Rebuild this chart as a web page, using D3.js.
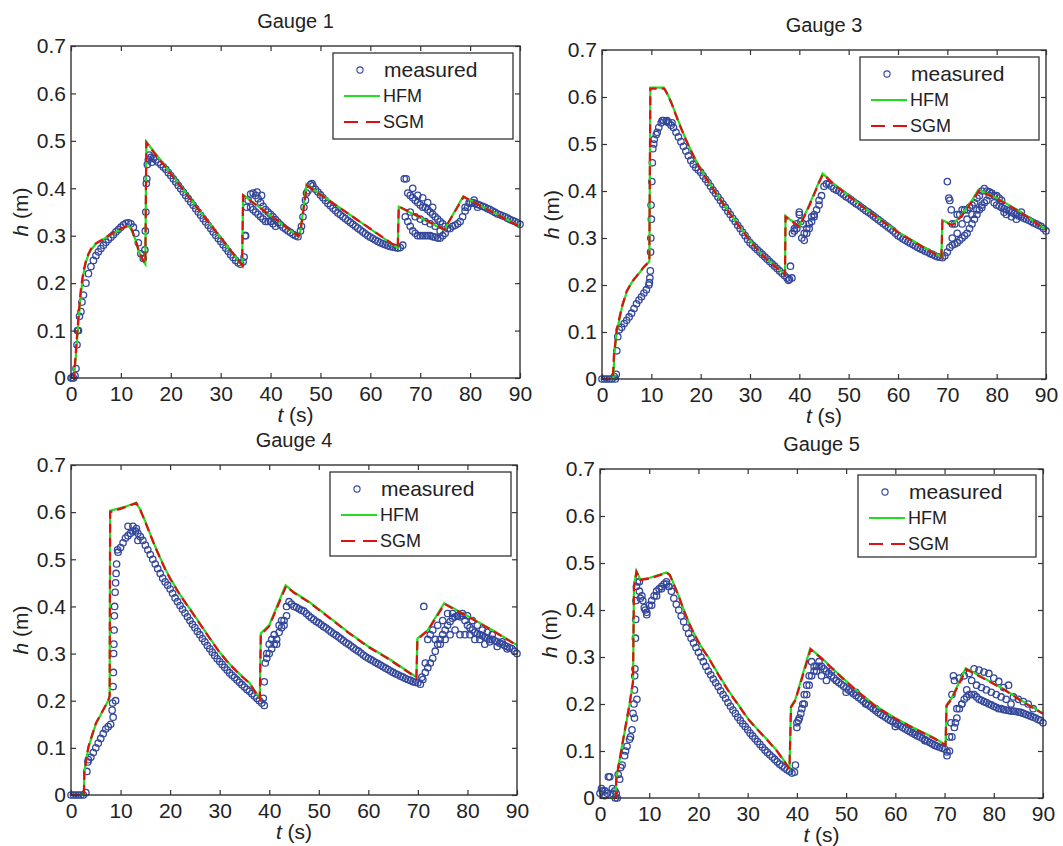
<!DOCTYPE html>
<html><head><meta charset="utf-8">
<script src="https://cdn.jsdelivr.net/npm/d3@7"></script>
<style>
body{margin:0;background:#fff}
text{font-family:"Liberation Sans",Arial,Helvetica,sans-serif;fill:#222}
</style>
</head><body>
<svg id="chart" width="1063" height="846"></svg>
<script>
// ---------------- DATA ----------------
const panelTitles = ["Gauge 1", "Gauge 3", "Gauge 4", "Gauge 5"];
const xTicks = [0, 10, 20, 30, 40, 50, 60, 70, 80, 90];
const yTicks = [0, 0.1, 0.2, 0.3, 0.4, 0.5, 0.6, 0.7];
const legendLabels = ["measured", "HFM", "SGM"];
// measured samples every 0.5 s from 0 to 90 s
const sampleTimes = d3.range(0, 90.001, 0.5);

const g1Measured = [
 0,0,.02,.1,.14,.175,.2,.22,.235,.248,
 .258,.266,.273,.28,.286,.292,.297,.302,.308,.313,
 .318,.323,.326,.327,.325,.318,.305,.285,.262,.252,
 .35,.46,.465,.463,.46,.455,.45,.445,.44,.433,
 .427,.42,.413,.406,.399,.392,.385,.378,.371,.364,
 .357,.35,.343,.336,.329,.322,.315,.308,.301,.294,
 .288,.281,.274,.267,.26,.254,.248,.243,.24,.245,
 .3,.375,.388,.39,.385,.378,.37,.362,.355,.35,
 .345,.34,.334,.328,.323,.318,.314,.31,.307,.303,
 .3,.298,.31,.34,.375,.395,.408,.405,.398,.392,
 .386,.38,.374,.368,.363,.358,.353,.348,.344,.34,
 .336,.332,.328,.324,.32,.316,.312,.308,.304,.3,
 .297,.294,.291,.288,.285,.283,.281,.279,.277,.276,
 .275,.274,.275,.28,.34,.39,.385,.38,.375,.37,
 .365,.36,.36,.355,.35,.345,.34,.335,.33,.325,
 .32,.315,.315,.32,.322,.325,.33,.34,.352,.36,
 .368,.37,.368,.366,.364,.362,.36,.357,.355,.352,
 .349,.346,.344,.342,.34,.337,.334,.332,.33,.327,
 .324];
const g1MeasuredExtra = [[0.2,0],[0.8,0.005],[1.2,0.07],[1.3,0.1],[1.7,0.13],[2.2,0.16],[14.8,0.27],[14.9,0.31],[15.1,0.41],[15.2,0.42],[15.3,0.45],[15.7,0.47],[16.2,0.455],[34.7,0.255],[34.9,0.3],[35.2,0.36],[36,0.36],[36.5,0.355],[37,0.35],[37.5,0.345],[38,0.34],[38.5,0.335],[39,0.33],[39.5,0.33],[40,0.33],[40.5,0.325],[41,0.32],[37.3,0.392],[38.2,0.385],[46.2,0.32],[46.7,0.36],[47.2,0.39],[48.3,0.41],[66.8,0.42],[67.2,0.42],[67.5,0.33],[68,0.32],[68.5,0.31],[69,0.305],[69.5,0.3],[70,0.3],[70.5,0.3],[71,0.3],[71.5,0.3],[72,0.3],[72.5,0.298],[73,0.297],[73.5,0.295],[74,0.295],[74.5,0.3],[75,0.305],[68,0.35],[69,0.34],[70,0.335],[71,0.33],[72,0.325],[73,0.32],[74,0.31],[68.5,0.4],[69.5,0.385],[70.5,0.38],[71.5,0.37],[72.5,0.36],[79,0.36],[79.8,0.37],[80.8,0.375],[81.5,0.36]];
const g1HFM = [[0,0],[0.6,0],[1.0,0.05],[1.5,0.12],[2,0.18],[2.5,0.22],[3,0.245],[3.5,0.26],[4,0.27],[5,0.283],[6,0.29],[7,0.296],[8,0.302],[9,0.308],[10,0.314],[11,0.319],[11.5,0.32],[12,0.315],[12.8,0.295],[13.5,0.27],[14.3,0.25],[14.9,0.24],[15.1,0.498],[34.3,0.237],[34.5,0.386],[45.6,0.298],[46,0.31],[47.2,0.408],[65.5,0.274],[65.7,0.361],[74.8,0.312],[78.6,0.383],[90,0.32]];
const g1SGM = [[0,0],[0.6,0],[1.0,0.06],[1.5,0.13],[2,0.19],[2.5,0.225],[3,0.247],[3.5,0.262],[4,0.272],[5,0.284],[6,0.29],[7,0.297],[8,0.303],[9,0.309],[10,0.315],[11,0.319],[11.6,0.321],[12.1,0.315],[12.9,0.293],[13.6,0.268],[14.4,0.249],[14.9,0.241],[15.1,0.496],[34.3,0.238],[34.5,0.385],[45.6,0.299],[46,0.31],[47.3,0.406],[65.5,0.275],[65.7,0.362],[74.8,0.313],[78.7,0.382],[90,0.319]];

const g3Measured = [
 0,0,0,0,0,.005,.06,.105,.11,.118,
 .125,.132,.14,.15,.16,.168,.175,.183,.19,.2,
 .34,.5,.52,.535,.545,.55,.548,.545,.54,.535,
 .525,.515,.505,.495,.485,.475,.465,.457,.45,.445,
 .44,.432,.425,.418,.41,.402,.395,.387,.38,.372,
 .365,.357,.35,.342,.335,.327,.32,.312,.305,.297,
 .29,.285,.28,.275,.27,.265,.26,.255,.25,.245,
 .24,.235,.23,.225,.22,.215,.212,.215,.32,.33,
 .35,.3,.295,.31,.32,.335,.345,.36,.38,.39,
 .41,.415,.415,.41,.405,.402,.4,.396,.392,.388,
 .385,.381,.377,.373,.37,.366,.362,.358,.355,.351,
 .347,.343,.339,.335,.331,.327,.323,.319,.315,.31,
 .305,.302,.298,.295,.292,.289,.286,.283,.28,.277,
 .275,.272,.27,.267,.265,.262,.26,.259,.258,.262,
 .27,.28,.285,.287,.29,.295,.3,.305,.31,.32,
 .33,.34,.35,.36,.37,.375,.38,.39,.395,.39,
 .37,.368,.365,.362,.36,.358,.355,.352,.35,.347,
 .345,.342,.34,.338,.335,.332,.33,.327,.325,.32,
 .315];
const g3MeasuredExtra = [[2.7,0],[2.9,0.01],[3.2,0.09],[9.6,0.205],[9.7,0.215],[9.8,0.23],[9.85,0.27],[9.9,0.3],[9.95,0.37],[10.1,0.42],[10.2,0.46],[10.3,0.49],[10.6,0.51],[11.2,0.525],[12.2,0.55],[13.2,0.55],[14.2,0.545],[37.8,0.21],[38.2,0.24],[38.6,0.31],[39,0.315],[39.5,0.32],[40,0.355],[40.3,0.335],[40.8,0.33],[41,0.31],[41.5,0.32],[42,0.33],[42.5,0.345],[43,0.35],[44,0.37],[70,0.42],[70.3,0.385],[70.5,0.38],[70.8,0.36],[71,0.33],[71.5,0.33],[72,0.35],[72.5,0.35],[73,0.36],[73.5,0.36],[74,0.36],[74.5,0.365],[75,0.37],[75.5,0.375],[76,0.385],[76.5,0.39],[77,0.4],[77.5,0.405],[78,0.4],[78.5,0.398],[79,0.395],[71,0.3],[72,0.31],[73,0.33],[74,0.34],[75,0.35],[76,0.36],[77,0.365],[79.5,0.375],[80,0.39],[80.5,0.385],[81,0.38],[81.5,0.355],[82,0.35],[83,0.345],[84,0.34],[85,0.355]];
const g3HFM = [[0,0],[2.3,0],[2.5,0.05],[3,0.1],[4,0.15],[5,0.185],[6,0.205],[7,0.218],[8.5,0.238],[9.6,0.25],[9.8,0.62],[12.5,0.62],[13,0.612],[14,0.59],[15,0.562],[16,0.535],[17,0.51],[18,0.487],[19,0.466],[20,0.447],[22,0.413],[24,0.382],[26,0.352],[28,0.323],[30,0.295],[32,0.27],[34,0.25],[36,0.232],[37.1,0.222],[37.2,0.347],[38,0.34],[40,0.325],[42,0.37],[44,0.42],[44.7,0.437],[45.5,0.43],[47,0.415],[50,0.39],[55,0.35],[60,0.313],[65,0.282],[68.8,0.26],[69,0.338],[71,0.328],[73,0.35],[75,0.38],[76.3,0.403],[80,0.385],[85,0.355],[90,0.318]];
const g3SGM = [[0,0],[2.2,0],[2.4,0.05],[3,0.105],[4,0.153],[5,0.187],[6,0.206],[7,0.219],[8.5,0.239],[9.6,0.25],[9.8,0.618],[12.6,0.618],[13,0.611],[14,0.589],[15,0.561],[16,0.534],[17,0.509],[18,0.486],[19,0.465],[20,0.446],[22,0.412],[24,0.381],[26,0.351],[28,0.322],[30,0.294],[32,0.269],[34,0.249],[36,0.231],[37.1,0.221],[37.2,0.345],[38,0.339],[40,0.324],[42,0.368],[44,0.418],[44.8,0.435],[45.5,0.429],[47,0.414],[50,0.389],[55,0.349],[60,0.312],[65,0.281],[68.8,0.259],[69,0.336],[71,0.327],[73,0.348],[75,0.378],[76.4,0.401],[80,0.384],[85,0.354],[90,0.317]];

const g4Measured = [
 0,0,0,0,0,0,.005,.075,.08,.09,
 .1,.11,.12,.13,.14,.145,.15,.165,.2,.515,
 .525,.535,.545,.55,.555,.56,.56,.555,.548,.54,
 .53,.52,.51,.5,.49,.48,.47,.46,.452,.445,
 .437,.428,.418,.41,.402,.394,.386,.378,.37,.362,
 .355,.347,.34,.332,.325,.317,.31,.303,.296,.289,
 .283,.277,.271,.265,.259,.254,.249,.244,.239,.234,
 .229,.224,.22,.215,.21,.205,.2,.195,.19,.29,
 .3,.31,.32,.33,.345,.355,.37,.4,.41,.405,
 .4,.398,.395,.392,.39,.385,.38,.376,.372,.368,
 .365,.361,.357,.354,.35,.346,.342,.339,.335,.331,
 .327,.323,.32,.316,.312,.308,.305,.301,.297,.293,
 .29,.287,.284,.281,.278,.275,.272,.269,.266,.263,
 .26,.257,.255,.252,.25,.247,.245,.243,.24,.239,
 .238,.235,.245,.26,.27,.28,.29,.305,.32,.33,
 .34,.35,.36,.368,.375,.378,.38,.378,.38,.37,
 .36,.355,.35,.345,.342,.34,.338,.335,.333,.33,
 .33,.327,.325,.322,.32,.317,.315,.312,.31,.305,
 .3];
const g4MeasuredExtra = [[3.2,0.05],[3.4,0.07],[8.3,0.18],[8.4,0.195],[8.5,0.23],[8.55,0.26],[8.6,0.3],[8.65,0.32],[8.7,0.35],[8.75,0.38],[8.8,0.4],[8.9,0.43],[9,0.45],[9.1,0.47],[9.2,0.49],[9.4,0.52],[11.5,0.57],[12.5,0.57],[13.2,0.565],[13.5,0.54],[38.8,0.205],[39,0.24],[39.2,0.28],[39.5,0.3],[40,0.32],[40.5,0.33],[41,0.34],[41.5,0.32],[42,0.36],[42.5,0.37],[43,0.36],[43.5,0.38],[70.8,0.25],[71.2,0.4],[71.5,0.28],[72,0.33],[72.5,0.34],[73,0.35],[73.5,0.33],[74,0.36],[74.5,0.32],[75,0.37],[75.5,0.33],[76,0.385],[76.5,0.34],[77,0.385],[77.5,0.35],[78,0.38],[78.5,0.34],[79,0.385],[79.5,0.34],[80,0.38],[80.5,0.34],[81,0.37],[81.5,0.33],[82,0.36],[82.5,0.33],[83,0.35],[83.5,0.32],[84,0.345],[84.5,0.325],[85,0.34],[86,0.315],[87,0.325],[88,0.31]];
const g4HFM = [[0,0],[2.6,0],[2.7,0.05],[3.5,0.1],[5,0.15],[6.5,0.18],[7.5,0.2],[7.8,0.21],[7.9,0.603],[10.5,0.61],[13.1,0.62],[14,0.605],[15,0.58],[16,0.553],[17,0.527],[18,0.503],[19,0.48],[20,0.46],[22,0.425],[24,0.395],[26,0.364],[28,0.333],[30,0.303],[32,0.278],[34,0.257],[36,0.238],[38.1,0.205],[38.3,0.343],[40,0.36],[43.3,0.445],[45,0.43],[48,0.41],[52,0.378],[56,0.345],[60,0.315],[64,0.29],[69.7,0.25],[69.9,0.332],[72,0.35],[75.3,0.407],[80,0.38],[85,0.35],[90,0.318]];
const g4SGM = [[0,0],[2.6,0],[2.7,0.05],[3.5,0.102],[5,0.152],[6.5,0.181],[7.5,0.2],[7.8,0.21],[7.9,0.6],[10.5,0.609],[13.2,0.619],[14,0.604],[15,0.579],[16,0.552],[17,0.526],[18,0.502],[19,0.479],[20,0.459],[22,0.424],[24,0.394],[26,0.363],[28,0.332],[30,0.302],[32,0.277],[34,0.256],[36,0.237],[38.1,0.204],[38.3,0.34],[40,0.358],[43.4,0.443],[45,0.429],[48,0.409],[52,0.377],[56,0.344],[60,0.314],[64,0.289],[69.7,0.249],[69.9,0.33],[72,0.349],[75.4,0.405],[80,0.379],[85,0.349],[90,0.317]];

const g5Measured = [
 .01,.015,.005,.01,.045,.01,.015,0,.04,.07,
 .09,.11,.125,.145,.17,.21,.44,.43,.405,.395,
 .41,.42,.43,.44,.445,.45,.455,.455,.45,.44,
 .425,.412,.4,.387,.375,.362,.35,.34,.33,.32,
 .31,.3,.29,.28,.27,.262,.253,.245,.237,.228,
 .22,.212,.203,.195,.187,.18,.172,.165,.158,.152,
 .145,.138,.132,.126,.12,.114,.108,.102,.097,.092,
 .087,.082,.077,.072,.068,.064,.06,.057,.053,.055,
 .16,.17,.19,.2,.22,.24,.26,.27,.28,.28,
 .28,.275,.27,.265,.26,.255,.25,.246,.242,.238,
 .234,.23,.226,.222,.218,.214,.21,.206,.202,.198,
 .194,.19,.186,.182,.178,.175,.172,.168,.165,.162,
 .159,.156,.153,.15,.147,.144,.141,.138,.135,.132,
 .13,.127,.124,.121,.118,.115,.112,.11,.108,.106,
 .104,.098,.1,.13,.15,.17,.19,.2,.21,.215,
 .22,.22,.22,.215,.21,.208,.205,.203,.2,.198,
 .195,.193,.19,.19,.188,.187,.186,.185,.185,.184,
 .183,.182,.18,.178,.176,.174,.172,.17,.167,.165,
 .16];
const g5MeasuredExtra = [[0.3,0.02],[1,0.015],[1.7,0.045],[2.5,0.02],[3.1,0],[3.3,0.01],[3.7,0.05],[4.2,0.065],[5.2,0.1],[6.2,0.13],[6.7,0.18],[6.9,0.2],[7,0.23],[7.05,0.26],[7.1,0.275],[7.2,0.34],[7.25,0.38],[7.3,0.42],[7.4,0.45],[7.6,0.46],[8,0.46],[8.2,0.425],[8.7,0.42],[9.2,0.4],[9.5,0.39],[10.5,0.41],[11.5,0.43],[12.5,0.445],[13.5,0.46],[14,0.45],[39.7,0.07],[40,0.15],[40.3,0.165],[40.8,0.18],[41.2,0.2],[41.5,0.22],[42,0.24],[42.5,0.26],[43,0.29],[43.5,0.28],[44,0.27],[44.5,0.29],[45,0.26],[46,0.25],[47,0.27],[48,0.25],[50,0.225],[52,0.225],[54,0.2],[56,0.19],[60,0.152],[64,0.14],[66,0.122],[68,0.112],[70.5,0.09],[71,0.13],[71.3,0.16],[71.5,0.22],[71.8,0.26],[72,0.25],[73,0.255],[74,0.26],[75,0.265],[76,0.275],[77,0.272],[78,0.268],[79,0.265],[80,0.255],[81,0.248],[82,0.235],[83,0.24],[84,0.215],[85,0.21],[86,0.205],[87,0.2],[88,0.19],[75.5,0.25],[76.5,0.24],[77.5,0.235],[78.5,0.23],[79.5,0.225],[80.5,0.22],[81.5,0.215],[82.5,0.21],[83.5,0.2],[73.5,0.2],[74.5,0.23],[72.5,0.19],[72.2,0.16]];
const g5HFM = [[0,0],[3.2,0],[3.3,0.04],[4.3,0.1],[5,0.14],[6,0.198],[6.7,0.245],[6.9,0.45],[7.4,0.483],[8.2,0.465],[10,0.468],[13.5,0.48],[14.2,0.475],[15,0.455],[16,0.43],[17,0.401],[18,0.375],[19,0.352],[20.5,0.323],[22,0.3],[24,0.264],[26,0.23],[28,0.2],[30,0.17],[32,0.146],[34,0.124],[36,0.1],[38.5,0.063],[38.8,0.195],[39.7,0.21],[42.7,0.318],[45,0.298],[48,0.268],[52,0.23],[56,0.196],[60,0.17],[64,0.148],[68,0.127],[70.2,0.113],[70.4,0.198],[71.4,0.212],[74.3,0.276],[78,0.255],[82,0.232],[86,0.205],[90,0.18]];
const g5SGM = [[0,0],[3.2,0],[3.3,0.04],[4.3,0.1],[5,0.142],[6,0.2],[6.7,0.247],[6.9,0.447],[7.4,0.481],[8.2,0.464],[10,0.467],[13.6,0.479],[14.2,0.474],[15,0.454],[16,0.429],[17,0.4],[18,0.374],[19,0.351],[20.5,0.322],[22,0.299],[24,0.263],[26,0.229],[28,0.199],[30,0.169],[32,0.145],[34,0.123],[36,0.099],[38.5,0.062],[38.8,0.193],[39.7,0.208],[42.8,0.316],[45,0.297],[48,0.267],[52,0.229],[56,0.195],[60,0.169],[64,0.147],[68,0.126],[70.2,0.112],[70.4,0.196],[71.4,0.21],[74.4,0.274],[78,0.254],[82,0.231],[86,0.204],[90,0.179]];

// ---------------- LAYOUT ----------------
const layout = [
  {box:[71, 46, 520, 378], legend:[333, 53, 513, 139]},
  {box:[602, 50, 1046, 379], legend:[860, 57, 1039, 140]},
  {box:[71, 465, 517, 795], legend:[330, 472, 511, 556]},
  {box:[600, 469, 1043, 798], legend:[858, 475, 1036, 557]}
];
const series = [
  {meas:g1Measured, extra:g1MeasuredExtra, hfm:g1HFM, sgm:g1SGM},
  {meas:g3Measured, extra:g3MeasuredExtra, hfm:g3HFM, sgm:g3SGM},
  {meas:g4Measured, extra:g4MeasuredExtra, hfm:g4HFM, sgm:g4SGM},
  {meas:g5Measured, extra:g5MeasuredExtra, hfm:g5HFM, sgm:g5SGM}
];

const C_MEAS = "#33479b", C_HFM = "#22dd22", C_SGM = "#dd1111", C_AX = "#333";
const svg = d3.select("#chart");

layout.forEach((L, i) => {
  const S = series[i];
  const [x0, y0, x1, y1] = L.box;
  const x = d3.scaleLinear().domain([0, 90]).range([x0, x1]);
  const y = d3.scaleLinear().domain([0, 0.7]).range([y1, y0]);
  const g = svg.append("g");

  // measured
  const pts = sampleTimes.map((t, k) => [t, S.meas[k]]).concat(S.extra);
  g.append("g").selectAll("circle").data(pts).join("circle")
    .attr("cx", d => x(d[0])).attr("cy", d => y(d[1])).attr("r", 3.2)
    .attr("fill", "none").attr("stroke", C_MEAS).attr("stroke-width", 1.3);

  const line = d3.line().x(d => x(d[0])).y(d => y(d[1]));
  g.append("path").datum(S.hfm).attr("d", line)
    .attr("fill", "none").attr("stroke", C_HFM).attr("stroke-width", 2.2);
  g.append("path").datum(S.sgm).attr("d", line)
    .attr("fill", "none").attr("stroke", C_SGM).attr("stroke-width", 2.2)
    .attr("stroke-dasharray", "9,5");

  // axes (ticks inward on all sides)
  const yFmt = d => d === 0 ? "0" : d3.format(".1f")(d);
  const ax = (gen, tx, ty) => {
    const a = g.append("g").attr("transform", `translate(${tx},${ty})`).call(gen);
    a.select(".domain").remove();
    a.selectAll(".tick line").attr("stroke", C_AX).attr("stroke-width", 1.2);
    a.selectAll("text").style("font-size", "21px").attr("fill", "#222");
    return a;
  };
  ax(d3.axisBottom(x).tickValues(xTicks).tickSize(-5).tickPadding(8).tickFormat(d3.format("d")), 0, y1);
  ax(d3.axisTop(x).tickValues(xTicks).tickSize(-5).tickFormat(""), 0, y0);
  ax(d3.axisLeft(y).tickValues(yTicks).tickSize(-5).tickPadding(5).tickFormat(yFmt), x0, 0);
  ax(d3.axisRight(y).tickValues(yTicks).tickSize(-5).tickFormat(""), x1, 0);

  g.append("rect").attr("x", x0).attr("y", y0).attr("width", x1 - x0).attr("height", y1 - y0)
    .attr("fill", "none").attr("stroke", C_AX).attr("stroke-width", 1.4);

  // title
  g.append("text").attr("x", (x0 + x1) / 2).attr("y", y0 - 18)
    .attr("text-anchor", "middle").style("font-size", "20px").text(panelTitles[i]);

  // x label
  const xl = g.append("text").attr("x", (x0 + x1) / 2).attr("y", y1 + 44)
    .attr("text-anchor", "middle").style("font-size", "21px");
  xl.append("tspan").style("font-style", "italic").text("t");
  xl.append("tspan").text(" (s)");
  // y label
  const yl = g.append("text").attr("transform", `translate(${x0 - 43},${(y0 + y1) / 2}) rotate(-90)`)
    .attr("text-anchor", "middle").style("font-size", "21px");
  yl.append("tspan").style("font-style", "italic").text("h");
  yl.append("tspan").text(" (m)");

  // legend
  const [lx0, ly0, lx1, ly1] = L.legend;
  const lg = g.append("g");
  lg.append("rect").attr("x", lx0).attr("y", ly0).attr("width", lx1 - lx0).attr("height", ly1 - ly0)
    .attr("fill", "#fff").attr("stroke", C_AX).attr("stroke-width", 1.3);
  lg.append("circle").attr("cx", lx0 + 27).attr("cy", ly0 + 17).attr("r", 3.1)
    .attr("fill", "none").attr("stroke", C_MEAS).attr("stroke-width", 1.1);
  lg.append("text").attr("x", lx0 + 51).attr("y", ly0 + 17).attr("dy", "0.35em")
    .style("font-size", "21px").text(legendLabels[0]);
  lg.append("line").attr("x1", lx0 + 11).attr("x2", lx0 + 47).attr("y1", ly0 + 43).attr("y2", ly0 + 43)
    .attr("stroke", C_HFM).attr("stroke-width", 2.2);
  lg.append("text").attr("x", lx0 + 50).attr("y", ly0 + 43).attr("dy", "0.35em")
    .style("font-size", "18px").text(legendLabels[1]);
  lg.append("line").attr("x1", lx0 + 11).attr("x2", lx0 + 47).attr("y1", ly0 + 69).attr("y2", ly0 + 69)
    .attr("stroke", C_SGM).attr("stroke-width", 2.2).attr("stroke-dasharray", "14,8");
  lg.append("text").attr("x", lx0 + 50).attr("y", ly0 + 69).attr("dy", "0.35em")
    .style("font-size", "18px").text(legendLabels[2]);
});
</script>
</body></html>
